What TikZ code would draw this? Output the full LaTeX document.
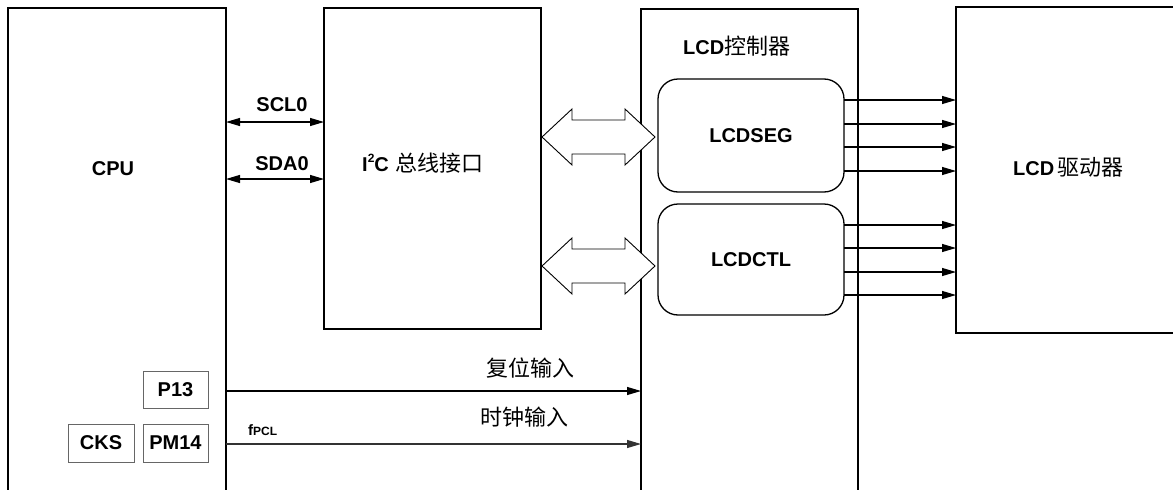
\documentclass[tikz,border=0pt]{standalone}
\usepackage{fontspec}
\setmainfont{Liberation Sans}
\newfontfamily\cjk{Noto Sans CJK SC}
\usetikzlibrary{arrows.meta}
\begin{document}
\begin{tikzpicture}[x=1pt,y=-1pt,
  frame/.style={inner sep=0pt, outer sep=0pt},
  boxline/.style={line width=1.8pt, line join=miter},
  inner/.style={draw, line width=1.3pt, rounded corners=20pt, inner sep=0pt, outer sep=0pt},
  regbox/.style={draw=black!60, line width=1pt, inner sep=0pt, outer sep=0pt,
    font=\fontsize{20}{22}\selectfont\bfseries},
  lbl/.style={font=\fontsize{20}{22}\selectfont\bfseries, inner sep=0pt},
  zh/.style={font=\fontsize{22}{24}\selectfont\cjk, inner sep=0pt},
  arr/.style={line width=1.1pt, -{Triangle[length=14pt,width=8pt]}},
  darr/.style={line width=1.1pt, {Triangle[length=14pt,width=8pt]}-{Triangle[length=14pt,width=8pt]}},
  barrow/.style={draw, line width=0.9pt, fill=white, line join=miter}
]
\useasboundingbox (0,0) rectangle (1173,490);

% main frames (CPU and LCD controller open at bottom, driver open at right)
\node[frame, minimum width=218pt, minimum height=492pt, anchor=north west] (cpu) at (8,8) {};
\node[frame, minimum width=217pt, minimum height=321pt, anchor=north west] (i2c) at (324,8) {};
\node[frame, minimum width=217pt, minimum height=491pt, anchor=north west] (lcdc) at (641,9) {};
\node[frame, minimum width=230pt, minimum height=326pt, anchor=north west] (drv) at (956,7) {};

\draw[boxline] (cpu.south west) |- (cpu.north east) -- (cpu.south east);
\draw[boxline] (i2c.north west) rectangle (i2c.south east);
\draw[boxline] (lcdc.south west) |- (lcdc.north east) -- (lcdc.south east);
\draw[boxline] (drv.north east) -| (drv.south west) -- (drv.south east);

% inner rounded blocks
\node[inner, minimum width=186pt, minimum height=113pt, anchor=north west] (seg) at (658,79) {};
\node[inner, minimum width=186pt, minimum height=111pt, anchor=north west] (ctl) at (658,204) {};

% labels
\node[lbl] (cpulbl) at (113,169) {CPU};
\node[lbl, anchor=west] (i2clbl) at (362,163) {I\raisebox{0.45em}{\fontsize{12}{12}\selectfont 2}C\hspace{0.35em}{\cjk\mdseries\fontsize{22}{24}\selectfont 总线接口}};
\node[lbl, anchor=west] (lcdclbl) at (683,46) {LCD{\cjk\mdseries\fontsize{22}{24}\selectfont 控制器}};
\node[lbl] (seglbl) at (seg.center) {LCDSEG};
\node[lbl] (ctllbl) at (ctl.center) {LCDCTL};
\node[lbl, anchor=west] (drvlbl) at (1013,167) {LCD\hspace{0.15em}{\cjk\mdseries\fontsize{22}{24}\selectfont 驱动器}};

% register boxes
\node[regbox, minimum width=65pt, minimum height=37pt, anchor=north west] (p13) at (143,371) {P13};
\node[regbox, minimum width=65pt, minimum height=38pt, anchor=north west] (pm14) at (143,424) {PM14};
\node[regbox, minimum width=66pt, minimum height=38pt, anchor=north west] (cks) at (68,424) {CKS};

% SCL0 / SDA0
\coordinate (sclA) at (226,122);
\coordinate (sdaA) at (226,179);
\draw[darr] (sclA) -- (i2c.west |- sclA);
\draw[darr] (sdaA) -- (i2c.west |- sdaA);
\node[lbl] (scllbl) at (282,105) {SCL0};
\node[lbl] (sdalbl) at (282,164) {SDA0};

% block double arrows
\draw[barrow] (542,137) -- (572,109) -- (572,120) -- (625,120) -- (625,109) -- (655,137)
  -- (625,165) -- (625,154) -- (572,154) -- (572,165) -- cycle;
\draw[barrow] (542,266) -- (572,238) -- (572,249) -- (625,249) -- (625,238) -- (655,266)
  -- (625,294) -- (625,283) -- (572,283) -- (572,294) -- cycle;

% outputs to LCD driver
\foreach \yy in {100,124,147,171} {
  \draw[arr] (seg.east |- 0,\yy) -- (drv.west |- 0,\yy);
}
\foreach \yy in {225,248,272,295} {
  \draw[arr] (ctl.east |- 0,\yy) -- (drv.west |- 0,\yy);
}

% reset and clock inputs
\coordinate (rstA) at (226,391);
\coordinate (clkA) at (226,444);
\draw[arr] (rstA) -- (lcdc.west |- rstA);
\draw[arr, draw=black!80, fill=black] (clkA) -- (lcdc.west |- clkA);
\node[zh] (rstlbl) at (530,368) {复位输入};
\node[zh] (clklbl) at (524,417) {时钟输入};
\node[inner sep=0pt, anchor=south west] (fpcl) at (248,436) {\fontsize{15}{16}\selectfont\bfseries f\fontsize{12}{13}\selectfont PCL};
\end{tikzpicture}
\end{document}
